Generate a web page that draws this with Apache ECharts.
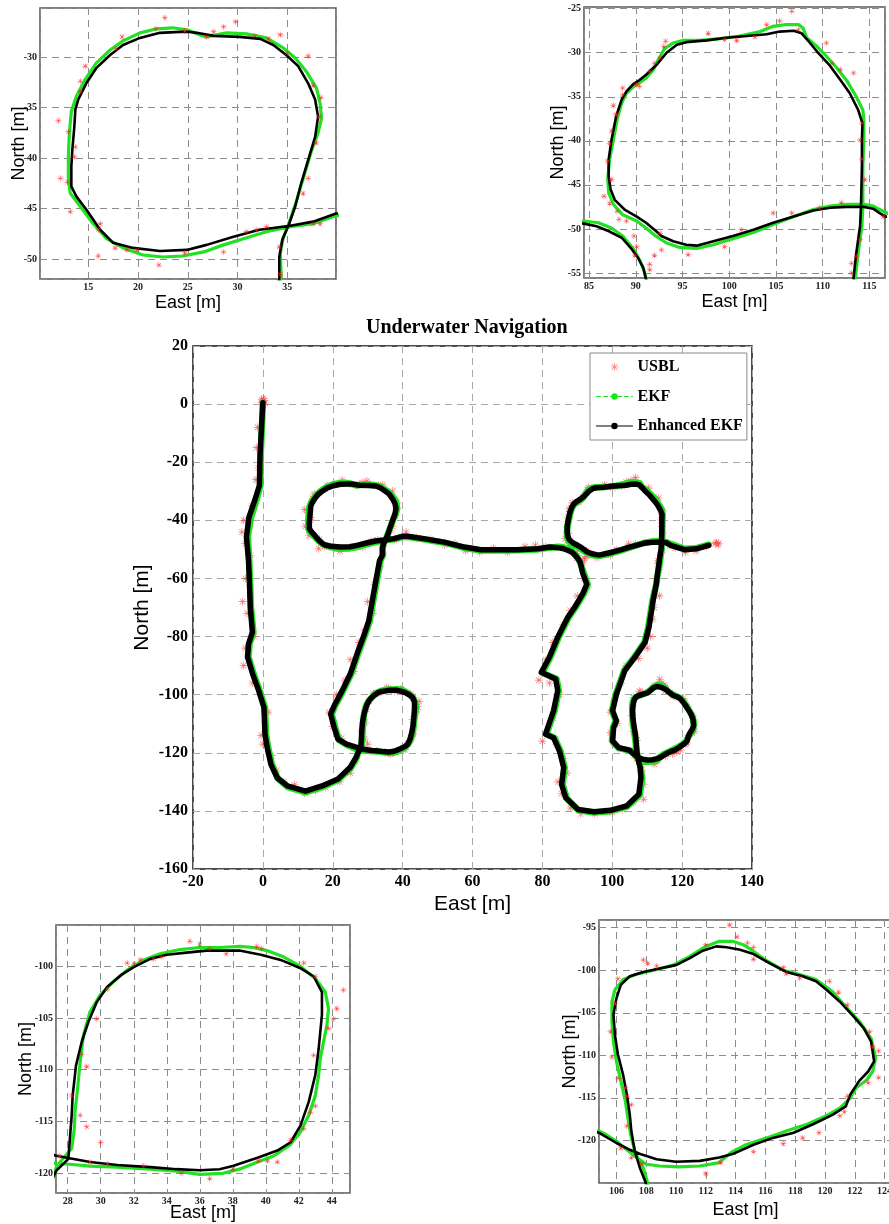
<!DOCTYPE html>
<html>
<head>
<meta charset="utf-8">
<script src="https://cdn.jsdelivr.net/npm/echarts@6/dist/echarts.min.js"></script>
<style>
  html, body { margin: 0; padding: 0; background: #fff; }
  #chart { width: 889px; height: 1224px; }
</style>
</head>
<body>
<div id="chart"></div>
<script>
// ---- data, [east, north] in metres ----

// Enhanced EKF track, in travel order
const enhStart = [[0,0.5],[-0.3,-6],[-0.8,-17],[-1,-28],[-2.3,-33],[-4,-39],[-4.7,-45.7],[-4.1,-54],[-3.8,-63],[-3.6,-70],[-3,-78.5],[-4.1,-82.5],[-4.4,-87],[-2.9,-93],[-1.2,-98.6],[0.3,-104.4],[0.6,-113.6],[1.2,-118],[2.3,-124],[4.1,-128.6],[7,-131.4],[12.2,-133.2],[16.9,-131.4],[21.5,-129],[25,-125],[26.8,-121.3]];
const enhLoopBL = [[27.33,-119.7],[28.04,-118.6],[28.1,-117.3],[28.24,-114.4],[28.3,-112.5],[28.5,-109.6],[28.85,-107.3],[29.25,-105.4],[29.75,-103.5],[30.4,-102],[31.2,-100.9],[32,-100.1],[33,-99.3],[34,-98.9],[35.2,-98.7],[36.4,-98.5],[37.8,-98.5],[38.4,-98.5],[39.7,-98.9],[40.9,-99.4],[42.1,-100.2],[42.9,-101],[43.4,-102.5],[43.4,-104.7],[43.2,-108],[43,-110.5],[42.6,-113.1],[42.1,-115.4],[41.5,-117],[40.7,-117.8],[39.5,-118.5],[38,-119.3],[37.2,-119.6],[36,-119.7],[34.6,-119.6],[33,-119.4],[31,-119.2],[29.35,-118.9],[27.95,-118.5],[27.33,-118.3]];
const enhMid = [[23.9,-117],[21.5,-115.3],[20.4,-111.3],[19.4,-106.7],[20.4,-103.8],[22.7,-98.6],[25,-92.9],[27.3,-84.8],[29.1,-79],[30.3,-74.6],[32,-63],[33.4,-53.8],[34.2,-52]];
const enhLoopTL = [[34.2,-49.8],[34.5,-48.1],[35.2,-46.5],[35.8,-44.8],[36.4,-42.5],[37.1,-40.2],[37.8,-37.9],[38.1,-35.9],[37.8,-34.2],[37.1,-32.6],[36.1,-30.9],[34.9,-29.8],[33.6,-28.8],[32.3,-28.2],[30.2,-28],[27.6,-27.9],[25.9,-27.6],[25.05,-27.5],[24.2,-27.5],[22.2,-27.6],[20.2,-28.1],[18.5,-28.8],[17.2,-29.8],[15.8,-31.1],[14.8,-32.6],[14,-34.2],[13.7,-35.2],[13.6,-36.9],[13.4,-39.2],[13.3,-40.8],[13.3,-42.8],[13.8,-43.8],[14.8,-45.1],[16.2,-47.1],[17.5,-48.4],[19.5,-48.9],[22.2,-49.2],[24.9,-49.1],[26.9,-48.6],[29.6,-47.8],[32.2,-47.1],[35.3,-46.7],[37.6,-46.3],[39.9,-45.5]];
const enhCross = [[41.4,-45.5],[46,-46.3],[51.9,-47.5],[57.7,-49.2],[62.4,-50.1],[67,-50.1],[72.8,-50.1],[78.7,-49.8],[82.2,-49.2],[84.46,-49.4]];
const enhDrop = [[85.8,-49.7],[87.2,-50.3],[88.5,-51],[89.5,-52.2],[90.25,-53.3],[90.8,-54.4],[91.07,-55.6],[91.5,-58],[92.7,-62],[91.5,-65.4],[89.2,-70],[87.3,-73.3],[84.4,-80.2],[82,-87.1],[79.7,-92.3],[83.8,-94.6],[84.4,-98.6],[83.2,-105.5],[80.9,-113.6],[83.2,-114.8],[84.9,-119.4],[86.1,-125.1],[85.5,-130.9],[86.7,-135.5],[90.2,-139.5],[94.8,-140.3],[99.5,-139.8],[104.1,-138.3],[107.6,-134.3],[108.2,-128.6]];
const enhLoopBR = [[107.97,-124.96],[107.57,-123.2],[107.23,-121.25],[107,-118.9],[106.9,-117],[106.7,-114.6],[106.45,-112.3],[106.1,-109.9],[105.9,-107.6],[105.8,-105.2],[106,-103.3],[106.3,-101.7],[106.9,-100.7],[107.8,-100.2],[108.9,-99.8],[110,-99.4],[110.9,-98.6],[111.8,-97.7],[112.7,-97.2],[113.4,-97.3],[114.3,-97.6],[115.2,-98.1],[116.3,-99.2],[117.4,-100.2],[118.5,-100.7],[119.4,-101.3],[120.1,-102.3],[121,-103.7],[121.9,-105.4],[122.6,-106.8],[123.1,-108.4],[123.3,-110.7],[122.9,-111.9],[122.3,-113],[121.7,-114.6],[121.4,-116],[120.5,-117],[119.2,-118.1],[117.9,-119.1],[116.5,-119.7],[115.2,-120.5],[113.8,-121.6],[112.9,-122],[111.6,-122.4],[110,-122.5],[108.7,-122.2],[107.6,-121.6],[106.9,-121.1],[106,-120.3],[104.84,-119.1]];
const enhRise = [[101.8,-118.2],[100.1,-115.9],[100.4,-111.3],[101.2,-109],[100.1,-105.5],[101.2,-99.8],[103.6,-91.7],[106.5,-87.1],[109.4,-82],[110.5,-76.8],[111.7,-67.6],[112.6,-62],[113,-58]];
const enhLoopTR = [[113.3,-55.6],[113.6,-52.7],[114,-49.7],[114.1,-47.4],[114.2,-42.9],[114.2,-39.9],[114.25,-38],[113.8,-36.5],[112.9,-34.6],[111.9,-33.1],[110.8,-31.5],[109.5,-30],[108.5,-28.7],[107.75,-27.8],[106.9,-27.5],[105.4,-27.6],[104,-27.9],[101.9,-28.1],[99.7,-28.3],[97.6,-28.6],[95.4,-28.8],[94.4,-29.1],[93.3,-30],[92.2,-31.4],[91.1,-32.5],[90.4,-33.1],[89.7,-33.6],[89,-34.4],[88.5,-35.3],[87.9,-37.2],[87.4,-39.9],[87.1,-42.1],[87.1,-44],[87.3,-45.5],[87.75,-46.7],[88.8,-47.8],[90.1,-48.6],[91.1,-49.3],[92,-50.1],[92.75,-50.8],[94,-51.4],[95.4,-51.8],[96.5,-51.9],[98.3,-51.4],[100.4,-50.8],[102.6,-50.1],[104.7,-49.3],[106.9,-48.6],[109,-47.9],[110.8,-47.6],[112.6,-47.5],[114.4,-47.5],[115.4,-47.7],[116.1,-48.2],[116.7,-48.6]];
const enhEnd = [[117.1,-48.6],[120.6,-50.1],[124.1,-49.8],[127.6,-48.6]];

// EKF track, in travel order
const ekfStart = [[0,0.3],[-0.2,-6],[-0.6,-17],[-0.7,-28],[-1.8,-33],[-3.4,-39],[-4.3,-45.7],[-3.9,-54],[-3.6,-63],[-3.4,-70],[-2.7,-78.5],[-3.8,-82.5],[-4.1,-87],[-2.6,-93],[-0.9,-98.6],[0.6,-104.4],[0.9,-113.6],[1.5,-118],[2.6,-124],[4.3,-128.9],[7.1,-131.8],[12.2,-133.6],[17,-131.8],[21.6,-129.3],[25.2,-125.2],[26.9,-121.5]];
const ekfLoopBL = [[27.33,-119.3],[28.24,-117.6],[28.4,-115.7],[28.44,-114.1],[28.6,-111.8],[28.75,-109.3],[28.95,-106.7],[29.35,-104.4],[29.96,-102.8],[30.77,-101.5],[31.58,-100.4],[32.6,-99.4],[33.6,-98.8],[34.8,-98.4],[36,-98.2],[37.2,-98.2],[38.45,-98.1],[39.25,-98.2],[40.06,-98.5],[41.07,-99.1],[42.08,-100],[43,-101.2],[43.6,-102.5],[43.8,-104.1],[43.7,-105.7],[43.5,-107.3],[43.3,-108.9],[43.2,-110.5],[43,-112.5],[42.6,-114.4],[42.1,-116],[41.5,-117.2],[40.5,-118.3],[39.5,-118.9],[38.4,-119.6],[37.4,-120],[36,-120.1],[34.6,-119.8],[33,-119.6],[31,-119.4],[29.35,-119.3],[27.95,-119.1],[27.33,-119.1]];
const ekfMid = [[24.1,-117.3],[21.7,-115.6],[20.7,-111.3],[19.7,-106.7],[20.7,-103.8],[23,-98.6],[25.3,-92.9],[27.6,-84.8],[29.4,-79],[30.6,-74.6],[32.3,-63],[33.7,-53.8],[34.4,-51.8]];
const ekfLoopTL = [[34.3,-49.4],[34.6,-47.9],[35.3,-46.1],[36,-44],[36.7,-41.7],[37.4,-39.4],[38.1,-37.5],[38.45,-36.05],[38.3,-34.6],[37.95,-33.1],[36.9,-31.4],[35.8,-30.1],[34.6,-29.1],[32.9,-28.1],[30.9,-27.7],[28.9,-27.6],[26.9,-28],[26.2,-27.8],[24.9,-27.3],[23.5,-27.1],[21.9,-27.2],[20.2,-27.6],[18.5,-28.4],[17.2,-29.3],[15.8,-30.6],[14.7,-32.2],[13.8,-33.9],[13.3,-35.4],[13.1,-37.5],[13,-39.9],[13,-42.2],[13.2,-43.5],[14.2,-44.8],[15.5,-46.5],[16.8,-47.95],[18.5,-48.9],[20.5,-49.6],[22.5,-49.8],[24.5,-49.7],[26.6,-49.3],[28.6,-48.6],[30.6,-48],[32.9,-47.3],[35.3,-46.8],[37.6,-46.5],[39.9,-45.7]];
const ekfCross = [[41.4,-45.7],[46,-46.5],[51.9,-47.7],[57.7,-49.5],[62.4,-50.4],[67,-50.4],[72.8,-50.3],[78.7,-50],[82.2,-49.4],[84.46,-49.1]];
const ekfDrop = [[86,-49.3],[87.4,-49.9],[88.6,-50.8],[89.7,-52.2],[90.4,-53.5],[90.9,-54.8],[91.1,-55.6],[91.8,-58],[93,-62],[91.8,-65.4],[89.5,-70],[87.6,-73.3],[84.7,-80.2],[82.3,-87.1],[80,-92.5],[84.1,-94.6],[84.7,-98.6],[83.5,-105.5],[81.2,-113.6],[83.5,-114.9],[85.2,-119.4],[86.4,-125.1],[85.8,-130.9],[87,-135.7],[90.3,-139.8],[94.8,-140.6],[99.5,-140.1],[104.2,-138.6],[107.9,-134.5],[108.6,-128.6]];
const ekfLoopBR = [[108.1,-125],[107.8,-123.2],[107.3,-121.6],[107,-119.7],[106.8,-117.7],[106.6,-115.4],[106.3,-113],[106,-110.7],[105.8,-108.4],[105.7,-106],[105.7,-103.7],[105.9,-102.3],[106.45,-101.1],[107.3,-100.5],[108.5,-100],[109.8,-99.4],[110.9,-98.4],[112,-97.2],[112.9,-96.6],[113.8,-96.6],[114.5,-97],[114.9,-97.4],[116,-98.8],[117.2,-100],[118.3,-100.5],[119.4,-101.1],[120.5,-102.5],[121.4,-104.3],[122.3,-106],[123.1,-108],[123.4,-110.3],[123.2,-111.9],[122.8,-112.9],[122.1,-113.8],[121.7,-115],[121,-116.2],[120.1,-117.1],[118.8,-118.1],[117.4,-118.9],[116.1,-119.7],[114.7,-120.5],[113.7,-121.4],[112.9,-122.6],[111.6,-123],[110.2,-123.1],[108.9,-123],[108,-122.8],[107.2,-121.8],[106.7,-121.1],[106,-120.1],[105.3,-119.3],[104.84,-118.9]];
const ekfRise = [[101.8,-118.4],[99.9,-115.9],[100.2,-111.3],[101,-109],[99.9,-105.5],[101,-99.8],[103.4,-91.7],[106.3,-87.1],[109.2,-82],[110.3,-76.8],[111.5,-67.6],[112.6,-62],[113.1,-58]];
const ekfLoopTR = [[113.5,-55.6],[113.8,-52.7],[114.2,-49.7],[114.3,-47.4],[114.3,-42.9],[114.4,-39.9],[114.4,-37.6],[114.3,-36.5],[113.6,-35],[112.6,-33.2],[111.5,-31.7],[110.4,-30.4],[109.4,-29.3],[108.3,-28.3],[107.9,-27.2],[107.4,-26.8],[106.1,-26.8],[104.7,-27],[103.3,-27.6],[101.1,-28.1],[99,-28.4],[96.9,-28.6],[95.1,-28.6],[94,-28.9],[93.1,-29.5],[92.4,-30.8],[91.9,-31.9],[91.1,-32.9],[90.4,-33.4],[89.7,-33.9],[89,-34.6],[88.5,-35.7],[88,-37.6],[87.6,-39.9],[87.2,-42.1],[87,-44.4],[87.1,-45.9],[87.6,-47.2],[88.6,-48.4],[90.1,-49.1],[91.1,-49.9],[92,-50.7],[93.3,-51.6],[94.7,-52.1],[96.5,-52.2],[98.3,-51.8],[100.4,-51.1],[102.6,-50.4],[104.7,-49.5],[106.9,-48.6],[109,-47.8],[110.8,-47.4],[112.6,-47.2],[114.4,-47.2],[115.4,-47.4],[116.1,-47.8],[116.7,-48.1]];
const ekfEnd = [[117.1,-48.3],[120.6,-49.8],[124.1,-49.6],[127.6,-48.4]];

// USBL fixes
const usblStart = [[0,1],[-0.3,0.5],[0.4,1.3],[0.2,-0.2],[-0.4,1.6],[0.6,0.4],[0.1,2],[-1.5,-8],[-1.8,-15],[-1.3,-22],[-2,-26],[-3,-35],[-5.5,-40],[-6,-44],[-5,-48],[-3.5,-52],[-5,-60],[-5.8,-68],[-4.5,-72],[-2.5,-80],[-5,-84],[-5.5,-90],[-3,-96],[-0.5,-100],[1.5,-106],[-0.5,-114],[0,-117],[2.5,-121],[4,-126],[6,-130],[9,-131],[12,-134],[15,-133],[18,-132],[22,-130],[25,-127],[26.5,-123]];
const usblLoopBL = [[35.4,-97.6],[36,-97.9],[36.6,-98.3],[37.6,-98.8],[39.45,-98.1],[39.75,-98.3],[42.3,-99.7],[43,-101],[44.7,-102.3],[44.3,-104.1],[44.1,-105.1],[43.8,-106],[42.9,-108.6],[43,-113.5],[42.7,-114.1],[42.3,-115.7],[41.5,-116.8],[40.1,-118.8],[40.7,-118.9],[39.55,-118.8],[38,-119.6],[36.6,-120.5],[34.9,-120],[32.6,-119.3],[30.4,-119.1],[27.5,-118.3],[29.35,-118.9],[30,-117],[29.15,-115.5],[28.75,-114.4],[29.15,-109.7],[28.25,-112.5],[28.85,-108.5],[29.75,-105.1],[30.4,-102.2],[31.6,-99.7],[32,-99.8],[32.4,-99.4],[33.2,-99.3],[33.7,-99.1]];
const usblMid = [[22.5,-115],[20,-111],[19,-106],[21,-100],[23.5,-95],[26,-92],[25,-88],[27.5,-82],[29,-78],[31.5,-72],[30,-68],[32,-62],[33.5,-56]];
const usblLoopTL = [[22.7,-26.1],[21.8,-27.2],[24.7,-27.4],[26.9,-28],[27.6,-27.5],[28.6,-27],[29.8,-26.5],[31.75,-27.9],[33.1,-28.2],[34.3,-27.8],[35,-29.6],[37.1,-29.9],[37.6,-32.8],[38.4,-34],[38.2,-35.9],[37.9,-38.5],[37.1,-42],[36.6,-43.5],[38.3,-46.5],[37.6,-46.5],[32.9,-46.8],[31.9,-47.1],[30.9,-47.3],[28.6,-49.3],[24.7,-49.4],[19.9,-49.1],[18.9,-49.1],[17.7,-48.9],[16.2,-46.5],[16,-47.1],[16,-49.7],[22.1,-50.6],[13.2,-45.3],[12.2,-42],[12.9,-42.4],[12,-36.3],[13,-37.4],[13.7,-38.9],[13.6,-39.9],[14.2,-32.4],[14.2,-33.4],[14.7,-30.9],[17.8,-29.2],[18.4,-28],[34.2,-48.8],[34.3,-51.5]];
const usblCross = [[41,-44],[44,-46],[48,-46.5],[52,-48.5],[55,-48],[58,-50.5],[62,-51],[66,-49.5],[70,-51],[75,-49],[78,-48.5],[81,-49]];
const usblLoopTR = [[106.7,-25.3],[105.4,-26.4],[104,-26.8],[107.4,-27.4],[97.75,-27.8],[99.5,-28.5],[100.8,-28.6],[102.75,-28.2],[93.2,-28.7],[93,-29.3],[92.6,-30.6],[92,-31.2],[91.5,-32.1],[90.4,-33.8],[90.1,-33.6],[88.6,-34],[88.6,-34.8],[87.6,-36],[87.9,-37],[87.4,-38.9],[87.2,-40.3],[87,-42.3],[87.4,-44.4],[86.6,-46.3],[87.2,-47.1],[88,-48],[88.2,-48.9],[89,-49.1],[89.8,-50.8],[90.1,-52],[89.9,-53],[91.5,-54],[91.5,-54.6],[92.75,-52.4],[92.6,-50.5],[92,-53],[95.6,-52.9],[99.5,-52],[101.3,-50.1],[104.7,-48.2],[106.7,-48.2],[109.7,-47.6],[112,-47],[116.5,-48.6],[110.4,-28.9],[111,-31.2],[111.9,-31.9],[113.3,-32.3],[114.2,-38],[114,-39.9],[114.2,-42.1],[114.5,-44.4],[114,-51.2],[113.6,-53.1],[113.1,-53.9],[113.1,-55]];
const usblDrop = [[92,-60],[93,-63],[90,-66],[88,-71],[86,-76],[83,-82],[81,-88],[79,-95],[82,-96],[85,-100],[83,-108],[80,-116],[84,-117],[86,-122],[87,-127],[84.5,-130],[85.5,-134],[88,-139],[91,-141],[95,-141],[100,-140.5],[103,-139.5],[106,-137],[109,-136],[109,-131],[108.5,-126]];
const usblLoopBR = [[113.6,-94.7],[114.1,-96.1],[114.8,-96.8],[115.2,-97.3],[115.2,-98.7],[112,-97],[107.8,-98.8],[108.1,-99.2],[108.7,-99.5],[106.1,-101],[105.9,-103.9],[105.6,-107.2],[105.7,-110.2],[106.1,-112.7],[106.6,-113.8],[106.7,-114.8],[107,-115.8],[106.7,-118.3],[106.3,-120.9],[107,-122],[107.7,-122.7],[112,-123.9],[113,-122.6],[115.2,-121.3],[117.2,-120.4],[118.5,-119.7],[119.6,-119.1],[121,-117.1],[121.3,-116.6],[121.5,-114.8],[122.9,-113.2],[123.6,-112.6],[123.2,-109],[123.6,-109.5],[123,-107.2],[121.5,-104.1],[120.9,-102.6],[120.3,-101.3],[118.3,-100.9],[117.4,-100.4],[117.2,-99.7]];
const usblRise = [[100.5,-117],[99.5,-113],[101.5,-110],[99.5,-106],[100.5,-102],[102.5,-96],[104,-90],[107.5,-87.5],[110,-84],[111,-80],[111.5,-74],[112,-70],[113.5,-66],[112.5,-60],[113.5,-57]];
const usblEnd = [[118,-49.5],[121,-51],[124,-50.5],[127,-49],[129.5,-48],[130.3,-48.5],[129.8,-47.6],[130.5,-47.9]];

const enhanced = [].concat(enhStart, enhLoopBL, enhMid, enhLoopTL, enhCross, enhDrop, enhLoopBR, enhRise, enhLoopTR, enhEnd);
const ekf = [].concat(ekfStart, ekfLoopBL, ekfMid, ekfLoopTL, ekfCross, ekfDrop, ekfLoopBR, ekfRise, ekfLoopTR, ekfEnd);
const usbl = [].concat(usblStart, usblLoopBL, usblMid, usblLoopTL, usblCross, usblLoopTR, usblDrop, usblLoopBR, usblRise, usblEnd);

// ---- layout: four zoomed views round the full track ----
const panels = [
  { box: {left: 40, top: 8, width: 296, height: 271}, x: [10.15, 39.9, 6], y: [-51.98, -25.14, 6], xGap: 15, yGap: 12 },
  { box: {left: 584, top: 7, width: 301, height: 271}, x: [84.46, 116.67, 6], y: [-55.57, -24.81, 6], xGap: 15, yGap: 17 },
  { box: {left: 193, top: 346, width: 559, height: 523}, x: [-20, 140, 8], y: [-160, 20, 9], xGap: 25, yGap: 40, main: true },
  { box: {left: 56, top: 925, width: 294, height: 268}, x: [27.29, 45.1, 9], y: [-121.9, -96.03, 6], xGap: 11, yGap: 21 },
  { box: {left: 599, top: 920, width: 293, height: 263}, x: [104.83, 124.5, 10], y: [-125, -94.1, 6], xGap: 18, yGap: 20 }
];

// MATLAB style '*' marker
const asterisk = 'path://M-0.8,-10L0.8,-10L0.8,10L-0.8,10Z M-10,-0.8L10,-0.8L10,0.8L-10,0.8Z M7.64,6.5L6.5,7.64L-7.64,-6.5L-6.5,-7.64Z M6.5,-7.64L7.64,-6.5L-6.5,7.64L-7.64,6.5Z';

const grids = [], xAxes = [], yAxes = [], series = [];

function makeAxis(p, i, dim) {
  const r = dim === 'x' ? p.x : p.y;
  return {
    type: 'value',
    gridIndex: i,
    min: r[0],
    max: r[1],
    splitNumber: r[2],
    interval: p.main ? 20 : undefined,
    name: dim === 'x' ? 'East [m]' : 'North [m]',
    nameLocation: 'middle',
    nameGap: dim === 'x' ? p.xGap : p.yGap,
    nameMoveOverlap: false,
    nameTextStyle: { fontFamily: 'Liberation Sans', fontSize: p.main ? 21 : 18, color: '#000' },
    axisLine: { show: false },
    axisTick: { show: false },
    axisLabel: {
      margin: p.main ? 5 : 3,
      showMinLabel: !!p.main,
      showMaxLabel: !!p.main,
      fontFamily: 'Liberation Serif',
      fontWeight: 'bold',
      fontSize: p.main ? 16 : 10,
      color: p.main ? '#000' : '#222'
    },
    splitLine: {
      show: true,
      lineStyle: { type: [7, 5], color: p.main ? '#a8a8a8' : '#8c8c8c', width: 1 }
    }
  };
}

panels.forEach((p, i) => {
  grids.push(Object.assign({
    show: true, borderColor: p.main ? '#111' : '#555', borderWidth: 1.5,
    backgroundColor: '#fff', containLabel: false, outerBoundsMode: 'none'
  }, p.box));
  xAxes.push(makeAxis(p, i, 'x'));
  yAxes.push(makeAxis(p, i, 'y'));

  series.push({
    name: 'USBL', type: 'scatter', xAxisIndex: i, yAxisIndex: i,
    data: usbl, symbol: asterisk, symbolSize: p.main ? 8 : 6,
    itemStyle: { color: p.main ? '#f24a4a' : '#ff2020' },
    z: p.main ? 1 : 4, clip: true, silent: true
  });
  series.push({
    name: 'EKF', type: 'line', xAxisIndex: i, yAxisIndex: i,
    data: ekf, symbol: 'none',
    lineStyle: { color: '#22e022', width: p.main ? 6.5 : 3.2, cap: 'round', join: 'round' },
    itemStyle: { color: '#22e022' },
    z: 2, clip: true, silent: true
  });
  series.push({
    name: 'Enhanced EKF', type: 'line', xAxisIndex: i, yAxisIndex: i,
    data: enhanced, symbol: 'none',
    lineStyle: { color: '#000', width: p.main ? 5.5 : 2.6, cap: 'round', join: 'round' },
    itemStyle: { color: '#000' },
    z: 3, clip: true, silent: true
  });
});

const chart = echarts.init(document.getElementById('chart'));
chart.setOption({
  animation: false,
  backgroundColor: '#fff',
  textStyle: { fontFamily: 'Liberation Sans' },
  title: {
    text: 'Underwater Navigation',
    left: 366, top: 318, padding: 0,
    textStyle: { fontFamily: 'Liberation Serif', fontWeight: 'bold', fontSize: 20, color: '#000' }
  },
  legend: {
    orient: 'vertical',
    left: 590, top: 353,
    padding: [6, 4, 6, 6],
    itemWidth: 36, itemHeight: 8, itemGap: 13.5,
    backgroundColor: '#fff', borderColor: '#8a8a8a', borderWidth: 1,
    selectedMode: false,
    textStyle: { fontFamily: 'Liberation Serif', fontWeight: 'bold', fontSize: 16, color: '#000' },
    data: [
      { name: 'USBL', icon: asterisk, itemStyle: { color: '#ff5050' } },
      { name: 'EKF', lineStyle: { width: 1, type: [4, 3] } },
      { name: 'Enhanced EKF', lineStyle: { width: 1 } }
    ]
  },
  grid: grids,
  xAxis: xAxes,
  yAxis: yAxes,
  series: series
});
</script>
</body>
</html>
